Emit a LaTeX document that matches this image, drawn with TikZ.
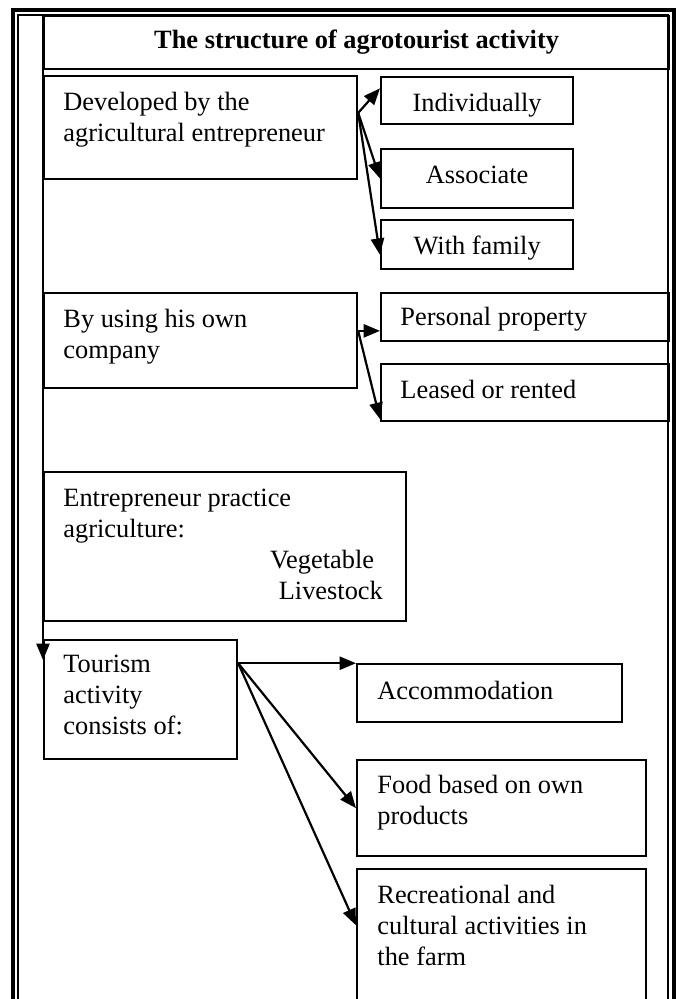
\documentclass[tikz,border=0pt]{standalone}
\usepackage{fontspec}
\setmainfont{Liberation Serif}
\usetikzlibrary{arrows.meta,calc}

\begin{document}
\begin{tikzpicture}[
    x=0.455pt, y=-0.455pt,
    box/.style={draw,line width=1pt,inner sep=0pt,anchor=north west},
    lbl/.style={inner sep=0pt,align=left,anchor=north west,
                font=\fontsize{12}{14}\selectfont},
    clbl/.style={inner sep=0pt,anchor=base,font=\fontsize{12}{14}\selectfont},
    arr/.style={line width=1pt,-{Triangle[length=7.5pt,width=6pt]}}
  ]
  \clip (0,0) rectangle (678,999);
  % double frame round the page
  \draw[line width=1.6pt] (13,10) rectangle (674,1010);
  \draw[line width=1.2pt] (18,15) rectangle (668,1010);

  % title
  \node[box,minimum width=284.4pt,minimum height=24.1pt,
        font=\fontsize{12}{14}\selectfont\bfseries] (title) at (43,15)
        {The structure of agrotourist activity};

  % left column
  \node[box,minimum width=142.4pt,minimum height=46.9pt] (dev)   at (43,75)  {};
  \node[box,minimum width=142.4pt,minimum height=43.2pt] (using) at (43,292) {};
  \node[box,minimum width=164.7pt,minimum height=67.8pt] (entr)  at (43,471) {};
  \node[box,minimum width=87.8pt, minimum height=54.1pt] (tour)  at (43,639) {};

  \node[lbl] (devt)   at ([shift={(20,17)}]dev.north west)
        {Developed by the\\agricultural entrepreneur};
  \node[lbl] (usingt) at ([shift={(20,17)}]using.north west)
        {By using his own\\company};
  \node[lbl] (entrt)  at ([shift={(20,18)}]entr.north west)
        {Entrepreneur practice\\agriculture:\\
         \hspace*{94pt}Vegetable\\\hspace*{98pt}Livestock};
  \node[lbl] (tourt)  at ([shift={(20,16)}]tour.north west)
        {Tourism\\activity\\consists of:};

  % right column
  \node[box,minimum width=87.4pt,minimum height=21.4pt] (indiv) at (380,76)  {};
  \node[box,minimum width=87.4pt,minimum height=26.8pt] (assoc) at (380,148) {};
  \node[box,minimum width=87.4pt,minimum height=22.3pt] (fam)   at (380,219) {};
  \node[clbl] (indivt) at ([shift={(0,35)}]indiv.north) {Individually};
  \node[clbl] (assoct) at ([shift={(0,35)}]assoc.north) {Associate};
  \node[clbl] (famt)   at ([shift={(0,35)}]fam.north)   {With family};

  \node[box,minimum width=131pt,minimum height=21.8pt] (pers) at (380,292) {};
  \node[box,minimum width=131pt,minimum height=25.9pt] (leas) at (380,363) {};
  \node[lbl] (perst) at ([shift={(20,15)}]pers.north west) {Personal property};
  \node[lbl] (least) at ([shift={(20,17)}]leas.north west) {Leased or rented};

  \node[box,minimum width=120.6pt,minimum height=26.4pt] (acc)  at (356,663) {};
  \node[box,minimum width=131.5pt,minimum height=43.7pt] (food) at (356,759) {};
  \node[box,minimum width=131.5pt,minimum height=61pt]   (recr) at (356,868) {};
  \node[lbl] (acct)  at ([shift={(21,18)}]acc.north west)  {Accommodation};
  \node[lbl] (foodt) at ([shift={(21,16)}]food.north west)
        {Food based on own\\products};
  \node[lbl] (recrt) at ([shift={(21,17)}]recr.north west)
        {Recreational and\\cultural activities in\\the farm};

  % connectors
  \coordinate (ltip) at (43,660);
  \draw[arr] (title.north west) -- (ltip);

  \coordinate (devout) at ($(dev.north east)!0.36!(dev.south east)$);
  \draw[arr] (devout) -- ($(indiv.north west)!0.25!(indiv.south west)$);
  \draw[arr] (devout) -- (assoc.west);
  \draw[arr] (devout) -- ($(fam.north west)!0.7!(fam.south west)$);

  \coordinate (useout) at ($(using.north east)!0.4!(using.south east)$);
  \draw[arr] (useout) -- (useout -| pers.west);
  \draw[arr] (useout) -- ($(leas.north west)!0.95!(leas.south west)$);

  \coordinate (tourout) at ($(tour.north east)!0.2!(tour.south east)$);
  \draw[arr] (tourout) -- (tourout -| acc.west);
  \draw[arr] (tourout) -- (food.west);
  \draw[arr] (tourout) -- ($(recr.north west)!0.42!(recr.south west)$);
\end{tikzpicture}
\end{document}
